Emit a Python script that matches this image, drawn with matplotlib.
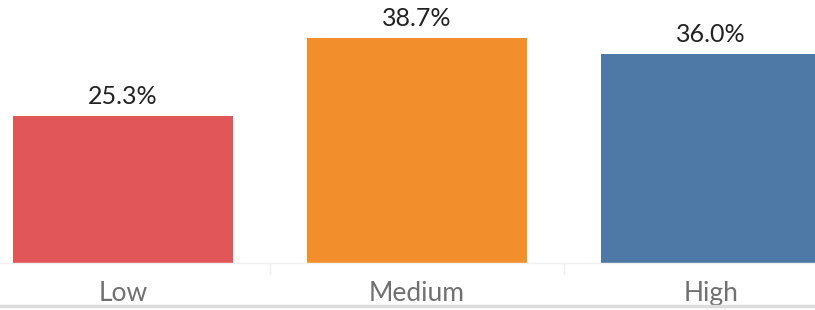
import matplotlib
matplotlib.use('Agg')
import matplotlib.pyplot as plt

categories = ['Low', 'Medium', 'High']
values = [25.3, 38.7, 36.0]
colors = ['#E15759', '#F28E2B', '#4E79A7']

plt.rcParams['font.family'] = ['Lato', 'DejaVu Sans']

fig = plt.figure(figsize=(8.15, 3.10), dpi=100)
ax = fig.add_axes([0, 0.1516, 1, 0.8484])

x = list(range(len(categories)))
ax.bar(x, values, width=0.75, color=colors)
for xi, v in zip(x, values):
    ax.annotate(f'{v:.1f}%', (xi, v), xytext=(0, 6), textcoords='offset points',
                ha='center', va='bottom', fontsize=18, color='#222222')

ax.set_xlim(-0.418, 2.354)
ax.set_ylim(0, 45.27)
ax.set_yticks([])
ax.set_xticks([])
for s in ['top', 'right', 'left']:
    ax.spines[s].set_visible(False)
ax.spines['bottom'].set_color('#f0f0f0')
ax.spines['bottom'].set_linewidth(1)

# category labels and separators
for xi, c in zip(x, categories):
    ax.annotate(c, (xi, 0), xytext=(0, -13), textcoords='offset points',
                ha='center', va='top', fontsize=19, color='#707070')
for sep in [0.5, 1.5]:
    ax.plot([sep, sep], [0, -1.9], color='#eeeeee', lw=1, clip_on=False)

fig.add_artist(plt.Line2D([0, 1], [4 / 310, 4 / 310], color='#dcdcdc', lw=2.5))

fig.savefig('out.png', dpi=100, facecolor='white')
